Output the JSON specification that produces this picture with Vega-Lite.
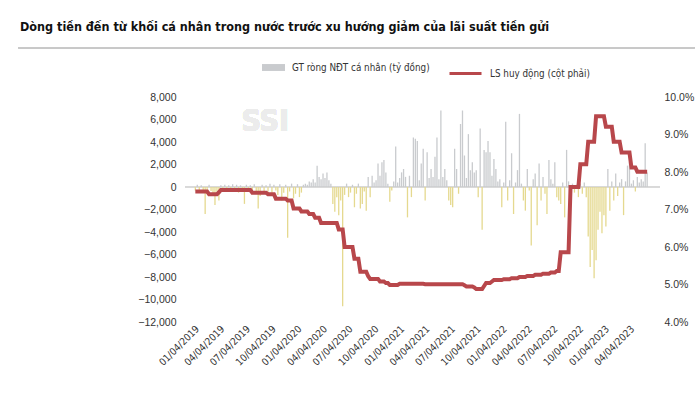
{
  "$schema": "https://vega.github.io/schema/vega-lite/v6.json",
  "width": 475,
  "height": 225,
  "autosize": "none",
  "padding": {"left": 185, "top": 97, "right": 40, "bottom": 72},
  "background": "white",
  "config": {"view": {"stroke": null}, "axis": {"grid": false, "domain": false, "ticks": false, "labelColor": "#333333", "title": null},
    "axisX": {"labelAngle": -45, "labelAlign": "right", "labelBaseline": "middle", "labelPadding": 5, "labelFont": "DejaVu Sans Condensed, Roboto, sans-serif", "labelFontSize": 10, "labelOverlap": false, "labelBound": false, "labelFlush": false},
    "axisTemporal": {"labelOverlap": false}},
  "title": {"text": "Dòng tiền đến từ khối cá nhân trong nước trước xu hướng giảm của lãi suất tiền gửi", "anchor": "start", "frame": "group", "font": "DejaVu Sans Condensed, Roboto, sans-serif", "fontSize": 12.5, "fontWeight": "bold", "color": "#111111", "dx": -165, "offset": 14},
  "data": {"values": [
{"d":"2018-12-28","v":-300,"r":7.48},{"d":"2019-01-04","v":200,"r":7.48},{"d":"2019-01-11","v":-400,"r":7.48},{"d":"2019-01-18","v":150,"r":7.48},{"d":"2019-01-25","v":-500,"r":7.48},{"d":"2019-02-01","v":-2400,"r":7.48},{"d":"2019-02-08","v":-600,"r":7.48},{"d":"2019-02-15","v":200,"r":7.41},{"d":"2019-02-22","v":-350,"r":7.41},{"d":"2019-03-01","v":-700,"r":7.41},{"d":"2019-03-08","v":-1600,"r":7.41},{"d":"2019-03-15","v":-400,"r":7.41},{"d":"2019-03-22","v":-1200,"r":7.46},{"d":"2019-03-29","v":150,"r":7.52},{"d":"2019-04-05","v":-300,"r":7.52},{"d":"2019-04-12","v":200,"r":7.52},{"d":"2019-04-19","v":-450,"r":7.52},{"d":"2019-04-26","v":150,"r":7.52},{"d":"2019-05-03","v":-300,"r":7.52},{"d":"2019-05-10","v":250,"r":7.52},{"d":"2019-05-17","v":-350,"r":7.52},{"d":"2019-05-24","v":200,"r":7.52},{"d":"2019-05-31","v":-500,"r":7.52},{"d":"2019-06-07","v":150,"r":7.52},{"d":"2019-06-14","v":-400,"r":7.52},{"d":"2019-06-21","v":-1500,"r":7.52},{"d":"2019-06-28","v":200,"r":7.52},{"d":"2019-07-05","v":-300,"r":7.52},{"d":"2019-07-12","v":150,"r":7.52},{"d":"2019-07-19","v":-450,"r":7.45},{"d":"2019-07-26","v":250,"r":7.45},{"d":"2019-08-02","v":-600,"r":7.45},{"d":"2019-08-09","v":-1900,"r":7.45},{"d":"2019-08-16","v":-800,"r":7.45},{"d":"2019-08-23","v":200,"r":7.45},{"d":"2019-08-30","v":-350,"r":7.45},{"d":"2019-09-06","v":150,"r":7.45},{"d":"2019-09-13","v":-400,"r":7.41},{"d":"2019-09-20","v":300,"r":7.41},{"d":"2019-09-27","v":-500,"r":7.41},{"d":"2019-10-04","v":200,"r":7.41},{"d":"2019-10-11","v":-300,"r":7.29},{"d":"2019-10-18","v":-700,"r":7.29},{"d":"2019-10-25","v":250,"r":7.29},{"d":"2019-11-01","v":-1200,"r":7.29},{"d":"2019-11-08","v":-500,"r":7.29},{"d":"2019-11-15","v":200,"r":7.29},{"d":"2019-11-22","v":-4500,"r":7.24},{"d":"2019-11-29","v":-400,"r":7.24},{"d":"2019-12-06","v":300,"r":7.24},{"d":"2019-12-13","v":-1000,"r":7.03},{"d":"2019-12-20","v":-600,"r":7.03},{"d":"2019-12-27","v":250,"r":7.03},{"d":"2020-01-03","v":-900,"r":7.03},{"d":"2020-01-10","v":-500,"r":6.95},{"d":"2020-01-17","v":200,"r":6.95},{"d":"2020-01-24","v":300,"r":6.95},{"d":"2020-01-31","v":200,"r":6.95},{"d":"2020-02-07","v":500,"r":6.88},{"d":"2020-02-14","v":400,"r":6.88},{"d":"2020-02-21","v":700,"r":6.88},{"d":"2020-02-28","v":400,"r":6.78},{"d":"2020-03-06","v":1900,"r":6.78},{"d":"2020-03-13","v":900,"r":6.78},{"d":"2020-03-20","v":700,"r":6.64},{"d":"2020-03-27","v":1200,"r":6.64},{"d":"2020-04-03","v":800,"r":6.64},{"d":"2020-04-10","v":1300,"r":6.64},{"d":"2020-04-17","v":600,"r":6.64},{"d":"2020-04-24","v":300,"r":6.64},{"d":"2020-05-01","v":-1500,"r":6.64},{"d":"2020-05-08","v":-2200,"r":6.64},{"d":"2020-05-15","v":-900,"r":6.64},{"d":"2020-05-22","v":-2500,"r":6.47},{"d":"2020-05-29","v":-1200,"r":6.47},{"d":"2020-06-05","v":-10600,"r":6.47},{"d":"2020-06-12","v":-700,"r":6.0},{"d":"2020-06-19","v":300,"r":6.0},{"d":"2020-06-26","v":-900,"r":6.0},{"d":"2020-07-03","v":-500,"r":6.0},{"d":"2020-07-10","v":200,"r":6.0},{"d":"2020-07-17","v":-1800,"r":5.69},{"d":"2020-07-24","v":-600,"r":5.69},{"d":"2020-07-31","v":300,"r":5.69},{"d":"2020-08-07","v":-1900,"r":5.34},{"d":"2020-08-14","v":-1500,"r":5.34},{"d":"2020-08-21","v":-400,"r":5.34},{"d":"2020-08-28","v":-2100,"r":5.34},{"d":"2020-09-04","v":900,"r":5.22},{"d":"2020-09-11","v":-900,"r":5.15},{"d":"2020-09-18","v":1000,"r":5.15},{"d":"2020-09-25","v":400,"r":5.15},{"d":"2020-10-02","v":600,"r":5.15},{"d":"2020-10-09","v":2100,"r":5.15},{"d":"2020-10-16","v":1000,"r":5.08},{"d":"2020-10-23","v":2200,"r":5.08},{"d":"2020-10-30","v":2400,"r":5.08},{"d":"2020-11-06","v":1300,"r":5.04},{"d":"2020-11-13","v":300,"r":5.04},{"d":"2020-11-20","v":-1300,"r":4.99},{"d":"2020-11-27","v":-300,"r":4.99},{"d":"2020-12-04","v":500,"r":4.99},{"d":"2020-12-11","v":3600,"r":4.99},{"d":"2020-12-18","v":400,"r":4.99},{"d":"2020-12-25","v":800,"r":5.02},{"d":"2021-01-01","v":1300,"r":5.02},{"d":"2021-01-08","v":1600,"r":5.02},{"d":"2021-01-15","v":900,"r":5.02},{"d":"2021-01-22","v":-2700,"r":5.02},{"d":"2021-01-29","v":1000,"r":5.02},{"d":"2021-02-05","v":-900,"r":5.02},{"d":"2021-02-12","v":4400,"r":5.02},{"d":"2021-02-19","v":4300,"r":5.02},{"d":"2021-02-26","v":4100,"r":5.02},{"d":"2021-03-05","v":600,"r":5.02},{"d":"2021-03-12","v":2100,"r":5.02},{"d":"2021-03-19","v":3400,"r":5.02},{"d":"2021-03-26","v":-1200,"r":5.01},{"d":"2021-04-02","v":3100,"r":5.01},{"d":"2021-04-09","v":800,"r":5.01},{"d":"2021-04-16","v":1600,"r":5.01},{"d":"2021-04-23","v":900,"r":5.01},{"d":"2021-04-30","v":2700,"r":5.01},{"d":"2021-05-07","v":4400,"r":5.01},{"d":"2021-05-14","v":700,"r":5.01},{"d":"2021-05-21","v":6800,"r":5.01},{"d":"2021-05-28","v":900,"r":5.01},{"d":"2021-06-04","v":1600,"r":5.01},{"d":"2021-06-11","v":600,"r":5.01},{"d":"2021-06-18","v":-1200,"r":5.01},{"d":"2021-06-25","v":-1600,"r":5.01},{"d":"2021-07-02","v":-1800,"r":5.01},{"d":"2021-07-09","v":3400,"r":5.01},{"d":"2021-07-16","v":1600,"r":5.01},{"d":"2021-07-23","v":-600,"r":5.01},{"d":"2021-07-30","v":5600,"r":5.01},{"d":"2021-08-06","v":6800,"r":5.01},{"d":"2021-08-13","v":2800,"r":4.98},{"d":"2021-08-20","v":800,"r":4.95},{"d":"2021-08-27","v":4700,"r":4.95},{"d":"2021-09-03","v":1500,"r":4.95},{"d":"2021-09-10","v":2200,"r":4.95},{"d":"2021-09-17","v":1300,"r":4.92},{"d":"2021-09-24","v":1500,"r":4.88},{"d":"2021-10-01","v":-900,"r":4.88},{"d":"2021-10-08","v":5200,"r":4.88},{"d":"2021-10-15","v":-3800,"r":4.88},{"d":"2021-10-22","v":3300,"r":4.96},{"d":"2021-10-29","v":3100,"r":5.04},{"d":"2021-11-05","v":4100,"r":5.04},{"d":"2021-11-12","v":3100,"r":5.04},{"d":"2021-11-19","v":1000,"r":5.08},{"d":"2021-11-26","v":2500,"r":5.12},{"d":"2021-12-03","v":1600,"r":5.12},{"d":"2021-12-10","v":500,"r":5.12},{"d":"2021-12-17","v":700,"r":5.12},{"d":"2021-12-24","v":-1800,"r":5.12},{"d":"2021-12-31","v":400,"r":5.14},{"d":"2022-01-07","v":5800,"r":5.14},{"d":"2022-01-14","v":-1200,"r":5.14},{"d":"2022-01-21","v":600,"r":5.14},{"d":"2022-01-28","v":3000,"r":5.17},{"d":"2022-02-04","v":-2400,"r":5.17},{"d":"2022-02-11","v":400,"r":5.17},{"d":"2022-02-18","v":1500,"r":5.17},{"d":"2022-02-25","v":6500,"r":5.2},{"d":"2022-03-04","v":300,"r":5.2},{"d":"2022-03-11","v":-1200,"r":5.2},{"d":"2022-03-18","v":-2100,"r":5.2},{"d":"2022-03-25","v":1600,"r":5.23},{"d":"2022-04-01","v":-300,"r":5.23},{"d":"2022-04-08","v":-5200,"r":5.23},{"d":"2022-04-15","v":700,"r":5.23},{"d":"2022-04-22","v":1200,"r":5.26},{"d":"2022-04-29","v":-3400,"r":5.26},{"d":"2022-05-06","v":2100,"r":5.26},{"d":"2022-05-13","v":-1200,"r":5.26},{"d":"2022-05-20","v":900,"r":5.29},{"d":"2022-05-27","v":-600,"r":5.29},{"d":"2022-06-03","v":-2400,"r":5.29},{"d":"2022-06-10","v":2400,"r":5.29},{"d":"2022-06-17","v":700,"r":5.32},{"d":"2022-06-24","v":300,"r":5.32},{"d":"2022-07-01","v":2200,"r":5.32},{"d":"2022-07-08","v":-900,"r":5.36},{"d":"2022-07-15","v":-1200,"r":5.36},{"d":"2022-07-22","v":-1500,"r":5.86},{"d":"2022-07-29","v":400,"r":5.86},{"d":"2022-08-05","v":-2700,"r":5.86},{"d":"2022-08-12","v":3300,"r":5.86},{"d":"2022-08-19","v":500,"r":5.86},{"d":"2022-08-26","v":-400,"r":7.6},{"d":"2022-09-02","v":300,"r":7.6},{"d":"2022-09-09","v":-500,"r":7.6},{"d":"2022-09-16","v":200,"r":7.6},{"d":"2022-09-23","v":-900,"r":7.6},{"d":"2022-09-30","v":300,"r":8.21},{"d":"2022-10-07","v":-600,"r":8.21},{"d":"2022-10-14","v":400,"r":8.21},{"d":"2022-10-21","v":-900,"r":8.21},{"d":"2022-10-28","v":-4400,"r":8.81},{"d":"2022-11-04","v":-7100,"r":8.81},{"d":"2022-11-11","v":-5600,"r":8.81},{"d":"2022-11-18","v":-8100,"r":8.81},{"d":"2022-11-25","v":-6500,"r":9.49},{"d":"2022-12-02","v":-3800,"r":9.49},{"d":"2022-12-09","v":-2200,"r":9.49},{"d":"2022-12-16","v":-4100,"r":9.49},{"d":"2022-12-23","v":-2500,"r":9.49},{"d":"2022-12-30","v":-3500,"r":9.21},{"d":"2023-01-06","v":1600,"r":9.21},{"d":"2023-01-13","v":-2100,"r":9.21},{"d":"2023-01-20","v":500,"r":9.21},{"d":"2023-01-27","v":-1200,"r":8.81},{"d":"2023-02-03","v":1200,"r":8.81},{"d":"2023-02-10","v":-800,"r":8.81},{"d":"2023-02-17","v":400,"r":8.81},{"d":"2023-02-24","v":700,"r":8.52},{"d":"2023-03-03","v":-2500,"r":8.52},{"d":"2023-03-10","v":500,"r":8.52},{"d":"2023-03-17","v":1900,"r":8.52},{"d":"2023-03-24","v":2200,"r":8.52},{"d":"2023-03-31","v":300,"r":8.12},{"d":"2023-04-07","v":600,"r":8.12},{"d":"2023-04-14","v":-400,"r":8.12},{"d":"2023-04-21","v":900,"r":8.01},{"d":"2023-04-28","v":400,"r":8.01},{"d":"2023-05-05","v":700,"r":8.01},{"d":"2023-05-12","v":500,"r":8.01},{"d":"2023-05-19","v":3900,"r":8.01},{"d":"2023-05-26","v":1300,"r":8.01}
  ]},
  "layer": [
    {
      "mark": {"type": "rule", "color": "#c8c8c8", "strokeWidth": 1},
      "encoding": {
        "y": {"datum": 12356, "type": "quantitative", "scale": {"domain": [-12000, 8000], "nice": false}, "axis": null},
        "x": {"datum": {"year": 2017, "month": 4, "date": 7}, "type": "temporal", "scale": {"domain": [{"year": 2018, "month": 12, "date": 9}, {"year": 2023, "month": 6, "date": 23}]},
          "axis": {"values": [{"year":2019,"month":1,"date":4},{"year":2019,"month":4,"date":4},{"year":2019,"month":7,"date":4},{"year":2019,"month":10,"date":4},{"year":2020,"month":1,"date":4},{"year":2020,"month":4,"date":4},{"year":2020,"month":7,"date":4},{"year":2020,"month":10,"date":4},{"year":2021,"month":1,"date":4},{"year":2021,"month":4,"date":4},{"year":2021,"month":7,"date":4},{"year":2021,"month":10,"date":4},{"year":2022,"month":1,"date":4},{"year":2022,"month":4,"date":4},{"year":2022,"month":7,"date":4},{"year":2022,"month":10,"date":4},{"year":2023,"month":1,"date":4},{"year":2023,"month":4,"date":4}], "format": "%m/%d/%Y", "labelOverlap": false}},
        "x2": {"datum": {"year": 2023, "month": 11, "date": 10}}
      }
    },
    {
      "mark": {"type": "text", "font": "DejaVu Sans Condensed, Roboto, sans-serif", "fontWeight": "bold", "fontSize": 30, "color": "#ececec", "baseline": "middle", "align": "center"},
      "encoding": {
        "x": {"datum": {"year": 2019, "month": 9, "date": 3}, "type": "temporal", "scale": {"domain": [{"year": 2018, "month": 12, "date": 9}, {"year": 2023, "month": 6, "date": 23}]},
          "axis": {"values": [{"year":2019,"month":1,"date":4},{"year":2019,"month":4,"date":4},{"year":2019,"month":7,"date":4},{"year":2019,"month":10,"date":4},{"year":2020,"month":1,"date":4},{"year":2020,"month":4,"date":4},{"year":2020,"month":7,"date":4},{"year":2020,"month":10,"date":4},{"year":2021,"month":1,"date":4},{"year":2021,"month":4,"date":4},{"year":2021,"month":7,"date":4},{"year":2021,"month":10,"date":4},{"year":2022,"month":1,"date":4},{"year":2022,"month":4,"date":4},{"year":2022,"month":7,"date":4},{"year":2022,"month":10,"date":4},{"year":2023,"month":1,"date":4},{"year":2023,"month":4,"date":4}], "format": "%m/%d/%Y", "labelOverlap": false}},
        "y": {"datum": 5800, "type": "quantitative", "scale": {"domain": [-12000, 8000], "nice": false}, "axis": null},
        "text": {"value": "SSI"}
      }
    },
    {
      "mark": {"type": "rule", "color": "#d9d9d9", "strokeWidth": 1},
      "encoding": {
        "y": {"datum": 0, "type": "quantitative", "scale": {"domain": [-12000, 8000], "nice": false}, "axis": null}
      }
    },
    {
      "mark": {"type": "bar", "width": 1.3},
      "encoding": {
        "x": {"field": "d", "type": "temporal", "scale": {"domain": [{"year": 2018, "month": 12, "date": 9}, {"year": 2023, "month": 6, "date": 23}]},
          "axis": {"values": [{"year":2019,"month":1,"date":4},{"year":2019,"month":4,"date":4},{"year":2019,"month":7,"date":4},{"year":2019,"month":10,"date":4},{"year":2020,"month":1,"date":4},{"year":2020,"month":4,"date":4},{"year":2020,"month":7,"date":4},{"year":2020,"month":10,"date":4},{"year":2021,"month":1,"date":4},{"year":2021,"month":4,"date":4},{"year":2021,"month":7,"date":4},{"year":2021,"month":10,"date":4},{"year":2022,"month":1,"date":4},{"year":2022,"month":4,"date":4},{"year":2022,"month":7,"date":4},{"year":2022,"month":10,"date":4},{"year":2023,"month":1,"date":4},{"year":2023,"month":4,"date":4}], "format": "%m/%d/%Y", "labelOverlap": false}},
        "y": {"field": "v", "type": "quantitative", "scale": {"domain": [-12000, 8000], "nice": false},
          "axis": {"orient": "left", "values": [-12000,-10000,-8000,-6000,-4000,-2000,0,2000,4000,6000,8000], "format": ",.0f", "labelPadding": 9, "labelFont": "Liberation Sans", "labelFontSize": 10.5}},
        "fill": {"condition": {"test": "datum.v < 0", "value": "#e5d98f"}, "datum": "GT ròng NĐT cá nhân (tỷ đồng)", "type": "nominal", "scale": {"range": ["#c9cbce"]},
          "legend": {"orient": "none", "legendX": 77, "legendY": -41, "title": null, "symbolType": "M-1,-0.3H1V0.3H-1Z", "symbolSize": 529, "symbolStrokeWidth": 0, "labelFont": "DejaVu Sans Condensed, Roboto, sans-serif", "labelFontSize": 9.8, "labelColor": "#333333", "labelOffset": 7, "padding": 0}}
      }
    },
    {
      "mark": {"type": "line", "strokeWidth": 4, "strokeJoin": "miter"},
      "encoding": {
        "x": {"field": "d", "type": "temporal", "scale": {"domain": [{"year": 2018, "month": 12, "date": 9}, {"year": 2023, "month": 6, "date": 23}]},
          "axis": {"values": [{"year":2019,"month":1,"date":4},{"year":2019,"month":4,"date":4},{"year":2019,"month":7,"date":4},{"year":2019,"month":10,"date":4},{"year":2020,"month":1,"date":4},{"year":2020,"month":4,"date":4},{"year":2020,"month":7,"date":4},{"year":2020,"month":10,"date":4},{"year":2021,"month":1,"date":4},{"year":2021,"month":4,"date":4},{"year":2021,"month":7,"date":4},{"year":2021,"month":10,"date":4},{"year":2022,"month":1,"date":4},{"year":2022,"month":4,"date":4},{"year":2022,"month":7,"date":4},{"year":2022,"month":10,"date":4},{"year":2023,"month":1,"date":4},{"year":2023,"month":4,"date":4}], "format": "%m/%d/%Y", "labelOverlap": false}},
        "y": {"field": "r", "type": "quantitative", "scale": {"domain": [4, 10], "nice": false},
          "axis": {"orient": "right", "values": [4,5,6,7,8,9,10], "labelExpr": "format(datum.value, '.1f') + '%'", "labelPadding": 4, "labelFont": "Liberation Sans", "labelFontSize": 10.5}},
        "stroke": {"datum": "LS huy động (cột phải)", "type": "nominal", "scale": {"range": ["#b8474b"]},
          "legend": {"orient": "none", "legendX": 263, "legendY": -41, "title": null, "symbolType": "M-1,0H1", "symbolSize": 1024, "symbolStrokeWidth": 3, "labelFont": "DejaVu Sans Condensed, Roboto, sans-serif", "labelFontSize": 9.8, "labelColor": "#333333", "labelOffset": 7, "padding": 0}}
      }
    }
  ],
  "resolve": {"scale": {"y": "independent", "fill": "independent", "stroke": "independent"}}
}
